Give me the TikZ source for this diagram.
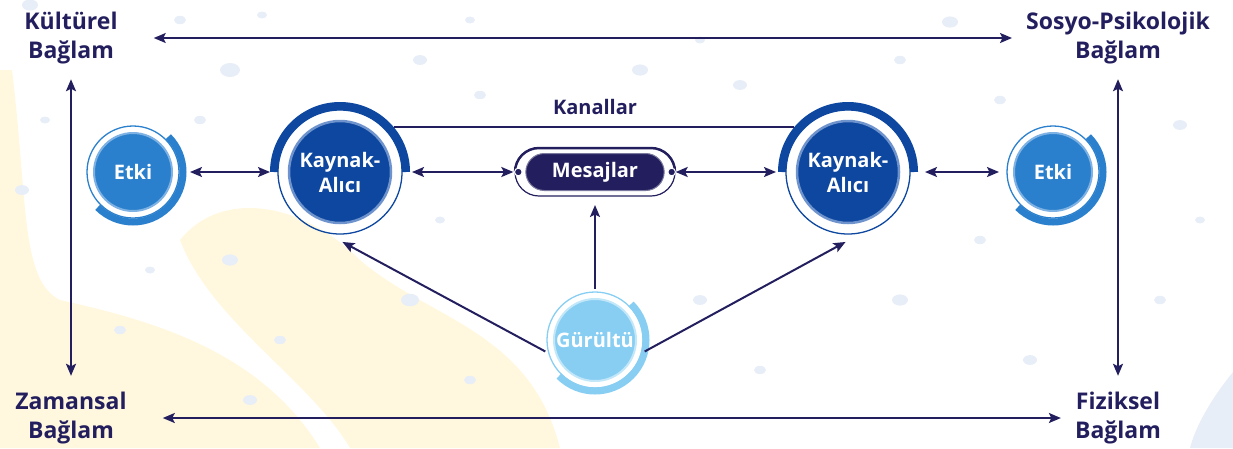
\documentclass[tikz,border=0pt]{standalone}
\usepackage{fontspec}
\setmainfont{Open Sans}
\usetikzlibrary{arrows.meta,shapes.misc}

\definecolor{navy}{HTML}{231F5E}
\definecolor{kaynakblue}{HTML}{0D479F}
\definecolor{kaynakrim}{HTML}{6F93CC}
\definecolor{etkiblue}{HTML}{2A80CD}
\definecolor{etkirim}{HTML}{7FB2E4}
\definecolor{gurultublue}{HTML}{88CEF2}
\definecolor{gurulturim}{HTML}{C2E7F9}
\definecolor{paleyellow}{HTML}{FFF8DF}
\definecolor{splash}{HTML}{E8EEF7}

\begin{document}
\begin{tikzpicture}[
    x=1pt, y=1pt,
    arr/.style={{Stealth[length=12pt,width=10pt,inset=2.5pt]}-{Stealth[length=12pt,width=10pt,inset=2.5pt]}, line width=2pt, draw=navy},
    one/.style={-{Stealth[length=12pt,width=10pt,inset=2.5pt]}, line width=2pt, draw=navy},
    ctx/.style={font=\fontsize{23}{29}\selectfont\bfseries, text=navy, align=center, inner sep=0pt},
    disc/.style={circle, inner sep=0pt, align=center, text=white, font=\fontsize{20}{25}\selectfont\bfseries},
    ring/.style={line width=1.3pt},
    band/.style={line width=8pt},
]
\useasboundingbox (0,0) rectangle (1233,-448);
% background
\fill[paleyellow] (0,-70) -- (12,-70) .. controls (28,-200) and (20,-280) .. (60,-300)
  .. controls (150,-320) and (260,-350) .. (320,-448) -- (0,-448) -- cycle;
\fill[paleyellow] (180,-240) .. controls (220,-190) and (300,-200) .. (360,-260)
  .. controls (430,-320) and (530,-330) .. (560,-448) -- (350,-448)
  .. controls (310,-380) and (210,-320) .. (180,-240) -- cycle;
\fill[splash] (1233,-372) .. controls (1210,-400) and (1195,-428) .. (1190,-448) -- (1233,-448) -- cycle;
\foreach \x/\y/\r in {30/-5/8, 180/-20/6, 230/-70/10, 262/-15/5, 420/-60/7, 470/-20/5,
  480/-95/6, 640/-70/8, 700/-40/5, 740/-85/7, 900/-60/6, 950/-22/8, 1000/-100/6,
  1180/-125/7, 1200/-220/5, 1160/-300/6, 22/-190/7, 45/-120/5, 200/-120/6,
  230/-260/8, 280/-340/6, 410/-300/9, 470/-380/6, 700/-300/7, 760/-370/6,
  900/-300/8, 980/-240/6, 1030/-360/7, 440/-220/5, 250/-400/7, 120/-330/6, 150/-270/5} {
  \fill[splash] (\x,\y) ellipse[x radius=\r, y radius=0.7*\r];
}

% context labels
\node[ctx] (kultur) at (71,-38) {Kültürel\\Bağlam};
\node[ctx] (sosyo) at (1118,-38) {Sosyo-Psikolojik\\Bağlam};
\node[ctx] (zaman) at (71,-418) {Zamansal\\Bağlam};
\node[ctx] (fizik) at (1118,-418) {Fiziksel\\Bağlam};

% circles
\node[disc, fill=etkiblue, draw=etkirim, line width=2pt, minimum size=78pt, outer sep=15pt] (etkiL) at (133,-172) {Etki};
\node[disc, fill=etkiblue, draw=etkirim, line width=2pt, minimum size=78pt, outer sep=15pt] (etkiR) at (1053,-172) {Etki};
\node[disc, fill=kaynakblue, draw=kaynakrim, line width=2.5pt, minimum size=102pt, outer sep=19pt] (kaynakL) at (340,-172) {Kaynak-\\Alıcı};
\node[disc, fill=kaynakblue, draw=kaynakrim, line width=2.5pt, minimum size=102pt, outer sep=19pt] (kaynakR) at (848,-172) {Kaynak-\\Alıcı};
\node[disc, fill=gurultublue, draw=gurulturim, line width=2pt, minimum size=82pt, outer sep=10pt] (gurultu) at (595,-340) {Gürültü};
\node[rounded rectangle, fill=navy, draw=navy!60, line width=1pt, minimum width=145pt, minimum height=37pt,
  outer sep=7.5pt, text=white, font=\fontsize{20}{25}\selectfont\bfseries] (mesaj) at (595,-172) {Mesajlar};
\node[font=\fontsize{20}{25}\selectfont\bfseries, text=navy] (kanal) at (595,-107) {Kanallar};

% rings
\foreach \n in {etkiL,etkiR} {
  \draw[ring, etkiblue] (\n.center) circle[radius=46];
  \draw[band, etkiblue, line width=7pt] ([shift={(45:50)}]\n.center) arc[start angle=45, end angle=-135, radius=50];
}
\foreach \n in {kaynakL,kaynakR} {
  \draw[ring, kaynakblue] (\n.center) circle[radius=62];
  \draw[band, kaynakblue] ([shift={(0:66)}]\n.center) arc[start angle=0, end angle=180, radius=66];
}
\draw[ring, gurultublue] (gurultu.center) circle[radius=48];
\draw[band, gurultublue, line width=7pt] ([shift={(45:51)}]gurultu.center) arc[start angle=45, end angle=-135, radius=51];
\draw[navy, line width=2.5pt] ([xshift=-80pt]mesaj.center) arc[start angle=180, end angle=90, radius=24]
  -- ([shift={(56,24)}]mesaj.center) arc[start angle=90, end angle=0, radius=24];
\draw[navy, line width=1.2pt] ([xshift=80pt]mesaj.center) arc[start angle=0, end angle=-90, radius=24]
  -- ([shift={(-56,-24)}]mesaj.center) arc[start angle=-90, end angle=-180, radius=24];
\foreach \a in {west,east} {
  \fill[navy, draw=white, line width=1pt] (mesaj.\a) circle[radius=3.8];
}

% connectors
\draw[navy, line width=1.5pt] (kaynakL.40) -- (kaynakR.140);
\draw[arr, shorten <=3pt] (etkiL) -- (kaynakL);
\draw[arr, shorten <=2pt, shorten >=5pt] (kaynakL) -- (mesaj.west);
\draw[arr, shorten <=4pt, shorten >=2pt] (mesaj.east) -- (kaynakR);
\draw[arr, shorten <=7pt] (kaynakR) -- (etkiR);
\draw[one, shorten >=7pt] (gurultu.north) -- (mesaj.south);
\draw[one] (gurultu.193) -- (kaynakL.-88);
\draw[one] (gurultu.-13) -- (kaynakR.-92);
\draw[arr, shorten <=36pt, shorten >=14pt] (kultur) -- (sosyo);
\draw[arr, shorten <=36pt, shorten >=14pt] (zaman) -- (fizik);
\draw[arr, shorten <=15pt, shorten >=16pt] (kultur) -- (zaman);
\draw[arr, shorten <=15pt, shorten >=16pt] (sosyo) -- (fizik);
\end{tikzpicture}
\end{document}
